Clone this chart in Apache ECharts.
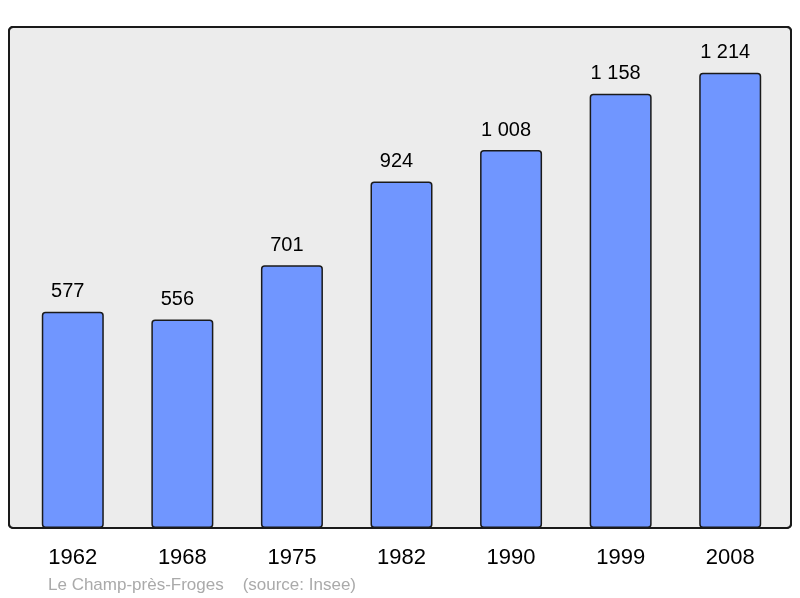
<!DOCTYPE html>
<html><head><meta charset="utf-8">
<script src="https://cdn.jsdelivr.net/npm/echarts@6/dist/echarts.min.js"></script>
<style>html,body{margin:0;padding:0;background:#fff}#c{width:800px;height:598px}</style>
</head><body><div id="c"></div>
<script>
const years = ['1962','1968','1975','1982','1990','1999','2008'];
const population = [577, 556, 701, 924, 1008, 1158, 1214];
const caption = 'Le Champ-près-Froges    (source: Insee)';

function fmt(v){ return String(v).replace(/\B(?=(\d{3})+(?!\d))/g, ' '); }

const chart = echarts.init(document.getElementById('c'), null, {renderer:'canvas'});
chart.setOption({
  animation:false,
  backgroundColor:'#ffffff',
  textStyle:{fontFamily:'Liberation Sans, Arial, sans-serif'},
  graphic:[
    {type:'rect', z:-10, shape:{x:9,y:27,width:782,height:501,r:4},
     style:{fill:'#ececec', stroke:'#1a1a1a', lineWidth:2}},
    {type:'rect', z:100, shape:{x:9,y:27,width:782,height:501,r:4},
     style:{fill:'none', stroke:'#1a1a1a', lineWidth:2}},
    {type:'text', left:48, top:577, style:{text:caption, fill:'#aaaaaa', font:'17px "Liberation Sans", Arial, sans-serif'}}
  ],
  grid:{left:18, right:15, top:27, bottom:70},
  xAxis:{type:'category', data:years,
    axisLine:{show:false}, axisTick:{show:false},
    axisLabel:{color:'#000', fontSize:22, margin:19}},
  yAxis:{type:'value', min:0, max:1336, show:false, splitLine:{show:false}},
  series:[{type:'bar', data:population, barWidth:62,
    itemStyle:{color:'#7096ff', borderColor:'#1a1a1a', borderWidth:1.5, borderRadius:3},
    label:{show:true, position:'top', distance:10, offset:[-5,0], color:'#000', fontSize:20,
      formatter:p=>fmt(p.value)}}]
});
</script></body></html>
